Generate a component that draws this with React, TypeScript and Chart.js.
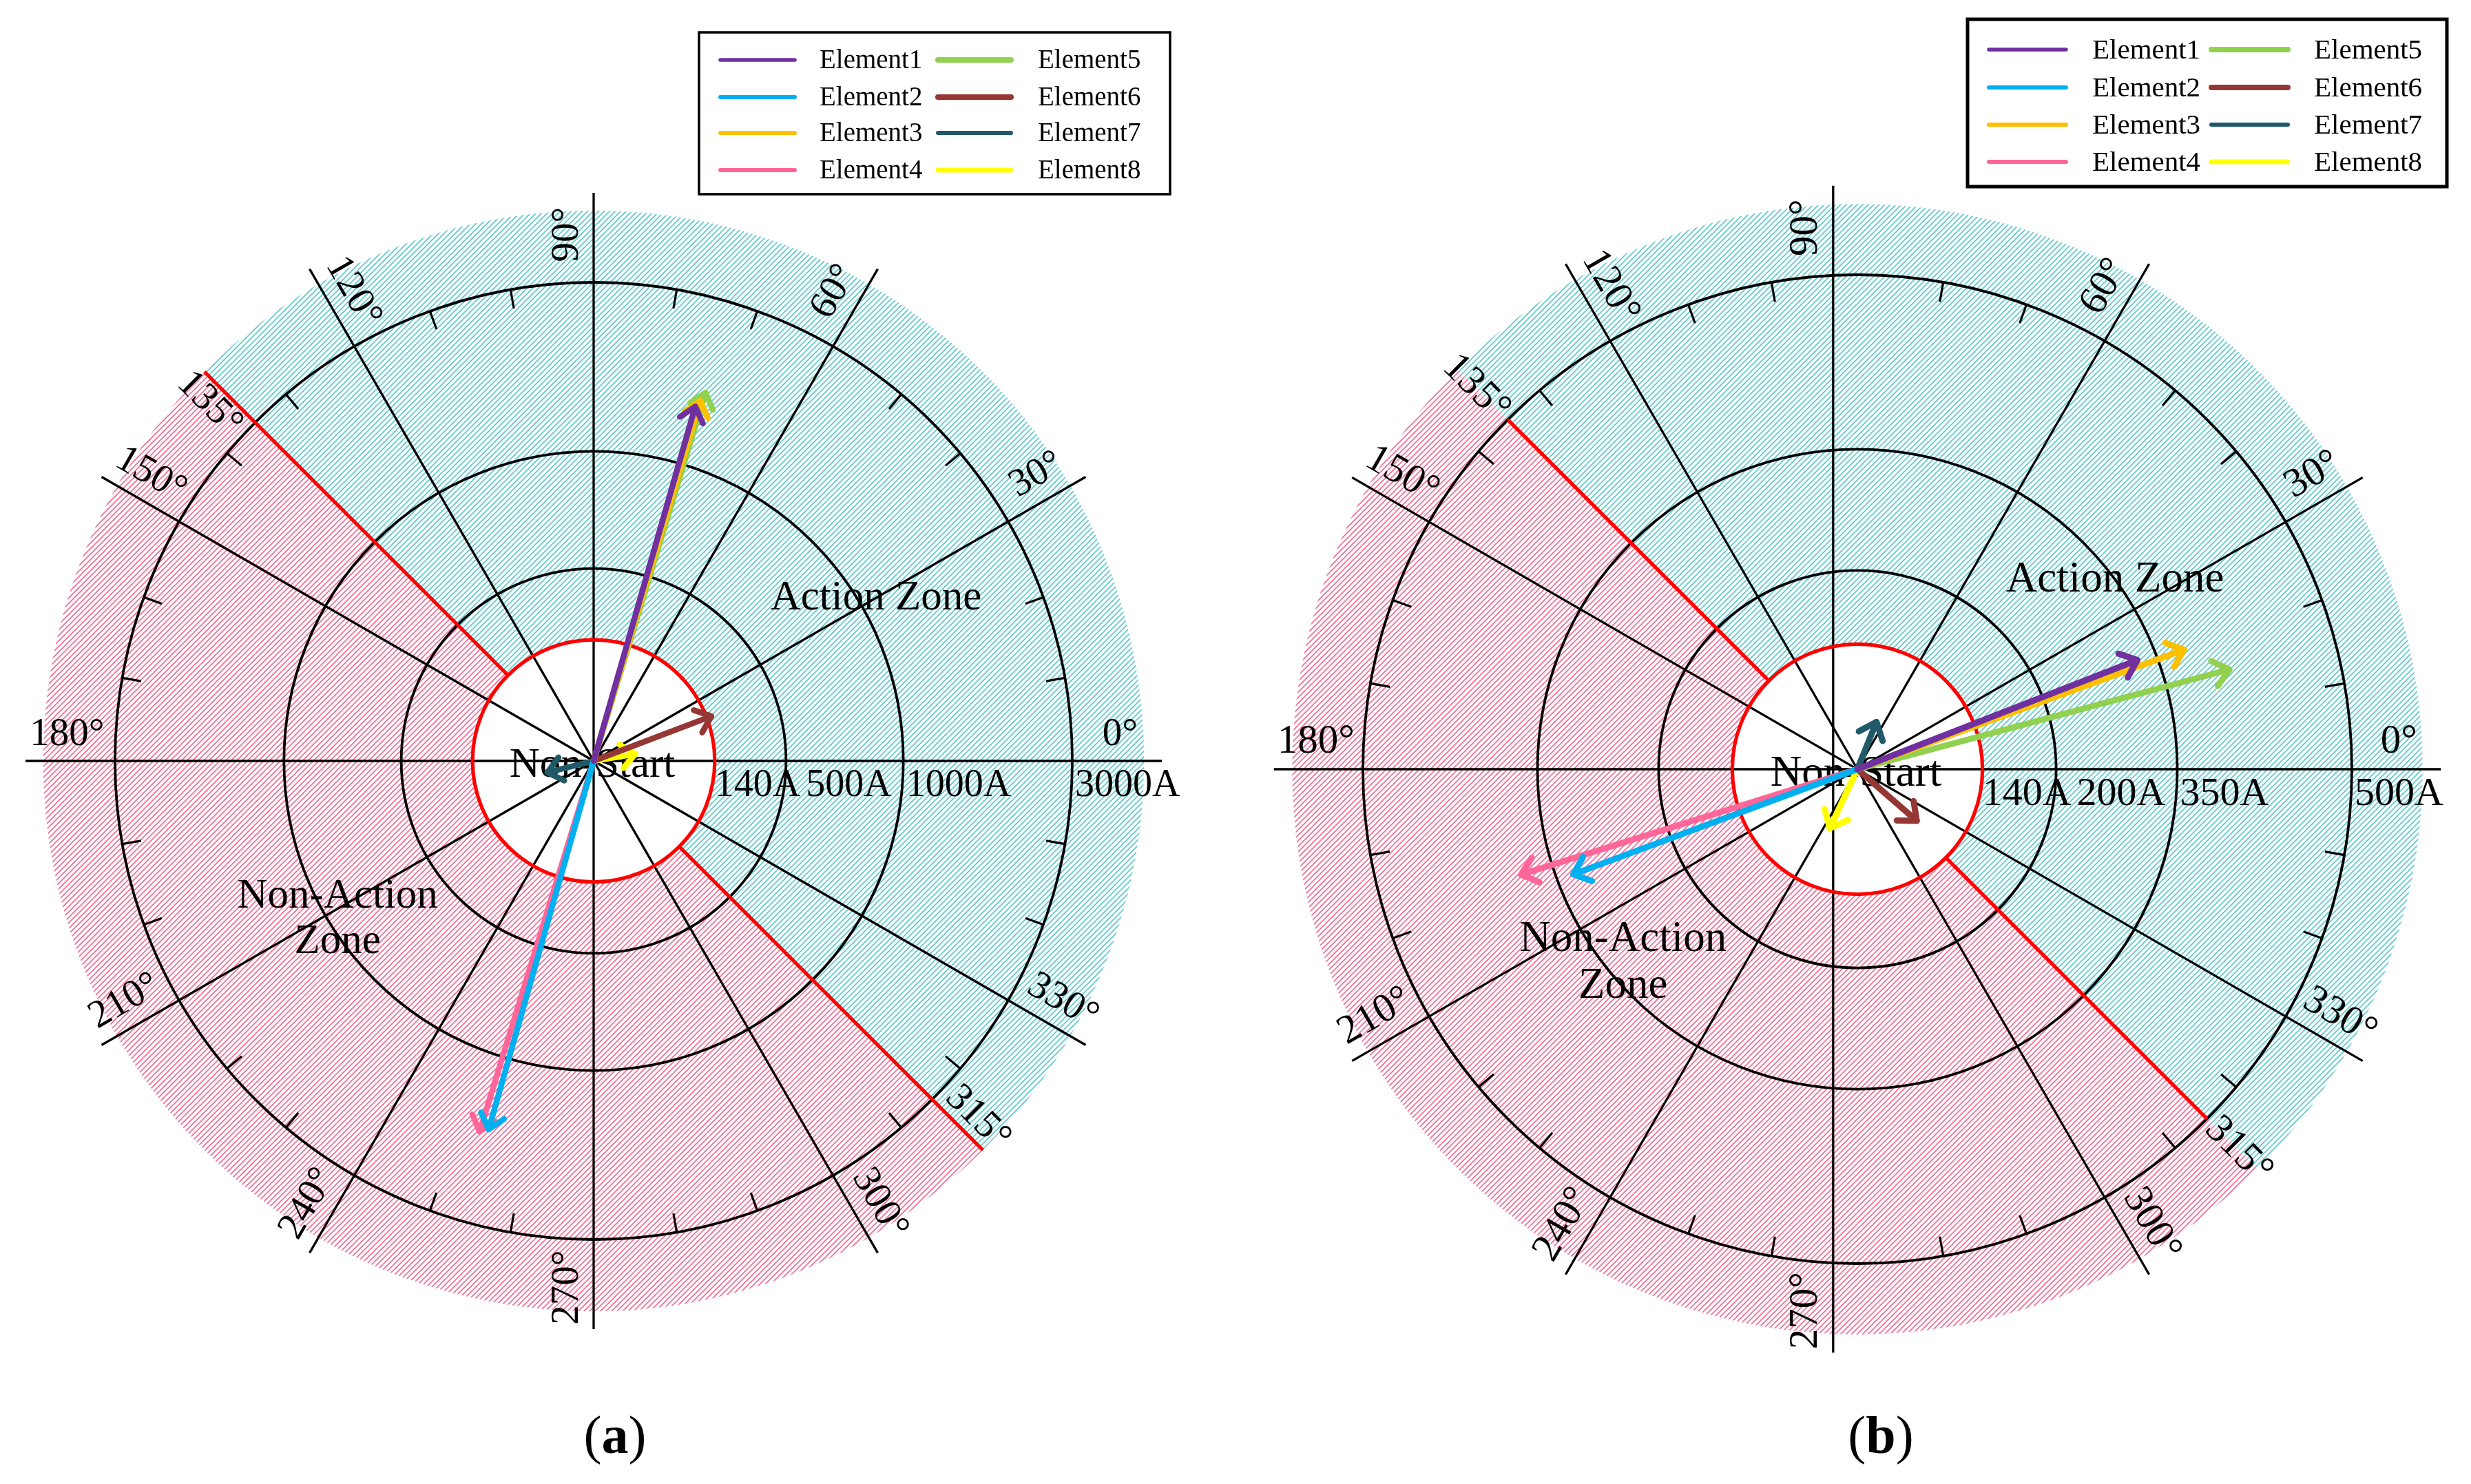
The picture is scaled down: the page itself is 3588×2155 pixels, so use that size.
import React, { useEffect, useRef } from 'react';
import { Chart, registerables } from 'chart.js';

Chart.register(...registerables);

// ---------------- data ----------------
const ELEMENTS = ['Element1', 'Element2', 'Element3', 'Element4', 'Element5', 'Element6', 'Element7', 'Element8'];
const ELEMENT_COLORS = ['#7030a0', '#00b0f0', '#ffc000', '#ff6699', '#92d050', '#953735', '#215968', '#ffff00'];

const ANGLE_LABELS = [0, 30, 60, 90, 120, 135, 150, 180, 210, 240, 270, 300, 315, 330];
const ZONE_BOUNDARY_ANGLES = [135, 315];
const SPOKE_ANGLES = [0, 30, 60, 90, 120, 150];
const MINOR_TICK_ANGLES = [10, 20, 40, 50, 70, 80, 100, 110, 130, 140, 160, 170, 190, 200, 220, 230, 250, 260, 280, 290, 310, 320, 340, 350];

// panel (a)
const A_RING_VALUES = [140, 500, 1000, 3000];
const A_RING_LABELS = ['140A', '500A', '1000A', '3000A'];
const A_MAGNITUDES = [1700, 1870, 1780, 1925, 1890, 164, 55, 49];
const A_ANGLES = [74.0, 254.1, 73.5, 252.9, 73.1, 20.8, 194, 9.5];

// panel (b)
const B_RING_VALUES = [140, 200, 350, 500];
const B_RING_LABELS = ['140A', '200A', '350A', '500A'];
const B_MAGNITUDES = [326, 329, 374, 378, 406, 88, 57, 73];
const B_ANGLES = [21.3, 200.3, 20.1, 197.4, 15.0, 319, 68, 245];

const ACTION_TEXT = 'Action Zone';
const NON_ACTION_TEXT = ['Non-Action', 'Zone'];
const NON_START_TEXT = 'Non-Start';

// ---------------- layout / style ----------------
const RING_FRACTIONS = [0.253, 0.402, 0.647, 1.0];
const FONT = '"Liberation Serif", "Times New Roman", Times, serif';
const DEG = Math.PI / 180;
const PAGE_H = 2155;

const LAYOUT_A = {
  left: 0, width: 1794, cx: 862, cy: 1105, unit: 695,
  hatchR: 1.15, spokeR: 1.187, redLineR: 1.15, vShift: 0,
  labelR: 1.10, labelD: 0.055, zoneR: 1.095, zoneShift: 0.04,
  angleFont: 57, ringFont: 56, zoneFont: 61, startFont: 61, legendFont: 39, captionFont: 78,
  action: [0.59, 0.34], nonAction: [-0.535, -0.283], lineGap: 66,
  legend: { x: 1015, y: 47, w: 684, h: 235, border: 3.5, rows: [40, 94, 146, 200], lineX: [[31, 139], [347, 453]], textX: [175, 492] },
  legendLineW: [5.5, 6, 6, 6, 8, 8, 6, 7],
  captionX: 893, captionY: 2110, caption: 'a',
  arrowW: 8.5, headLen: 27,
};

const LAYOUT_B = {
  left: 1794, width: 1794, cx: 903, cy: 1117, unit: 718,
  hatchR: 1.143, spokeR: 1.18, redLineR: 1.0, vShift: -0.049,
  labelR: 1.095, labelD: 0.055, zoneR: 1.09, zoneShift: 0,
  angleFont: 59, ringFont: 58, zoneFont: 63, startFont: 63, legendFont: 41, captionFont: 78,
  action: [0.521, 0.383], nonAction: [-0.474, -0.344], lineGap: 68,
  legend: { x: 1063, y: 28, w: 696, h: 243, border: 5, rows: [44, 99, 153, 207], lineX: [[31, 143], [354, 465]], textX: [181, 503] },
  legendLineW: [5.5, 6, 6, 6, 8, 8, 6, 7],
  captionX: 937, captionY: 2110, caption: 'b',
  arrowW: 9, headLen: 29,
};

function toRadius(value: number, ringValues: number[]): number {
  const xs = [0, ...ringValues];
  const ys = [0, ...RING_FRACTIONS];
  for (let i = 1; i < xs.length; i++) {
    if (value <= xs[i] || i === xs.length - 1) {
      return ys[i - 1] + ((value - xs[i - 1]) / (xs[i] - xs[i - 1])) * (ys[i] - ys[i - 1]);
    }
  }
  return 0;
}

function makeHatch(color: string): any {
  const c = document.createElement('canvas');
  c.width = 8;
  c.height = 8;
  const g = c.getContext('2d');
  if (!g) return color;
  g.fillStyle = '#ffffff';
  g.fillRect(0, 0, 8, 8);
  g.strokeStyle = color;
  g.lineWidth = 1.6;
  g.beginPath();
  g.moveTo(-2, 10); g.lineTo(10, -2);
  g.moveTo(-2, 2); g.lineTo(2, -2);
  g.moveTo(6, 10); g.lineTo(10, 6);
  g.stroke();
  return g.createPattern(c, 'repeat') || color;
}

function makePlugin(L: any, ringValues: number[], ringLabels: string[]) {
  return {
    id: 'polarFrame',
    beforeDraw(chart: any) {
      const ctx = chart.ctx;
      ctx.save();
      ctx.fillStyle = '#ffffff';
      ctx.fillRect(0, 0, chart.width, chart.height);
      ctx.restore();
    },
    beforeDatasetsDraw(chart: any) {
      const ctx: CanvasRenderingContext2D = chart.ctx;
      const xs = chart.scales.x;
      const ys = chart.scales.y;
      const cx = xs.getPixelForValue(0);
      const cy = ys.getPixelForValue(0);
      const u = xs.getPixelForValue(1) - cx;
      const pt = (r: number, th: number, dx = 0, dy = 0): [number, number] => [
        xs.getPixelForValue(r * Math.cos(th * DEG) + dx),
        ys.getPixelForValue(r * Math.sin(th * DEG) + dy),
      ];
      ctx.save();
      // hatched zones
      const rRed = RING_FRACTIONS[0] * u;
      const rH = L.hatchR * u;
      ctx.fillStyle = makeHatch('#5cc9c9');
      ctx.beginPath();
      ctx.arc(cx, cy, rH, 45 * DEG, -135 * DEG, true);
      ctx.arc(cx, cy, rRed, -135 * DEG, 45 * DEG, false);
      ctx.closePath();
      ctx.fill();
      ctx.fillStyle = makeHatch('#f26a95');
      ctx.beginPath();
      ctx.arc(cx, cy, rH, 225 * DEG, 45 * DEG, true);
      ctx.arc(cx, cy, rRed, 45 * DEG, 225 * DEG, false);
      ctx.closePath();
      ctx.fill();

      // spokes (diameters)
      ctx.strokeStyle = '#000';
      ctx.lineWidth = 3.3;
      ctx.lineCap = 'butt';
      SPOKE_ANGLES.forEach((th) => {
        const sh = th === 90 ? L.vShift : 0;
        const a = pt(L.spokeR, th, sh);
        const b = pt(L.spokeR, th + 180, sh);
        ctx.beginPath();
        ctx.moveTo(a[0], a[1]);
        ctx.lineTo(b[0], b[1]);
        ctx.stroke();
      });
      // black rings
      ctx.lineWidth = 3.8;
      RING_FRACTIONS.slice(1).forEach((f) => {
        ctx.beginPath();
        ctx.arc(cx, cy, f * u, 0, Math.PI * 2);
        ctx.stroke();
      });
      // minor ticks on outer ring
      ctx.lineWidth = 3.2;
      MINOR_TICK_ANGLES.forEach((th) => {
        const a = pt(1.0, th);
        const b = pt(1.0 - 0.04, th);
        ctx.beginPath();
        ctx.moveTo(a[0], a[1]);
        ctx.lineTo(b[0], b[1]);
        ctx.stroke();
      });
      // red start circle + zone boundaries
      ctx.strokeStyle = '#ff0000';
      ctx.lineWidth = 5.2;
      ctx.beginPath();
      ctx.arc(cx, cy, rRed, 0, Math.PI * 2);
      ctx.stroke();
      ZONE_BOUNDARY_ANGLES.forEach((th) => {
        const a = pt(RING_FRACTIONS[0], th);
        const b = pt(L.redLineR, th);
        ctx.beginPath();
        ctx.moveTo(a[0], a[1]);
        ctx.lineTo(b[0], b[1]);
        ctx.stroke();
      });

      // angle labels
      ctx.fillStyle = '#000';
      ctx.font = `${L.angleFont}px ${FONT}`;
      ctx.textAlign = 'center';
      ctx.textBaseline = 'middle';
      ANGLE_LABELS.forEach((th) => {
        let rot = th;
        if (th > 90 && th <= 270) rot = th - 180;
        else if (th > 270) rot = th - 360;
        let x: number, y: number;
        if (ZONE_BOUNDARY_ANGLES.includes(th)) {
          x = L.zoneR * Math.cos(th * DEG) - L.zoneShift * Math.sin(th * DEG);
          y = L.zoneR * Math.sin(th * DEG) + L.zoneShift * Math.cos(th * DEG);
        } else {
          x = L.labelR * Math.cos(th * DEG) - L.labelD * Math.sin(rot * DEG);
          y = L.labelR * Math.sin(th * DEG) + L.labelD * Math.cos(rot * DEG);
        }
        if (th === 90 || th === 270) x += L.vShift;
        ctx.save();
        ctx.translate(xs.getPixelForValue(x), ys.getPixelForValue(y));
        ctx.rotate(-rot * DEG);
        ctx.fillText(`${th}°`, 0, 0);
        ctx.restore();
      });

      // ring value labels
      ctx.font = `${L.ringFont}px ${FONT}`;
      ctx.textAlign = 'left';
      ctx.textBaseline = 'alphabetic';
      const baseY = ys.getPixelForValue(-0.073);
      let prevEnd = -Infinity;
      ringLabels.forEach((lab, i) => {
        const ringPx = xs.getPixelForValue(toRadius(ringValues[i], ringValues));
        const x0 = i === 0 ? ringPx : Math.max(ringPx + 4, prevEnd + 8);
        ctx.fillText(lab, x0, baseY);
        prevEnd = x0 + ctx.measureText(lab).width;
      });

      // zone texts
      ctx.font = `${L.zoneFont}px ${FONT}`;
      ctx.textAlign = 'center';
      ctx.textBaseline = 'middle';
      ctx.fillText(ACTION_TEXT, xs.getPixelForValue(L.action[0]), ys.getPixelForValue(L.action[1]));
      NON_ACTION_TEXT.forEach((t, i) => {
        ctx.fillText(t, xs.getPixelForValue(L.nonAction[0]), ys.getPixelForValue(L.nonAction[1]) + i * L.lineGap);
      });
      ctx.font = `${L.startFont}px ${FONT}`;
      ctx.textBaseline = 'alphabetic';
      ctx.fillText(NON_START_TEXT, cx - 2, ys.getPixelForValue(-0.033));
      ctx.restore();
    },
    afterDatasetDraw(chart: any, args: any) {
      const meta = args.meta;
      const pts = meta.data;
      if (!pts || pts.length < 2) return;
      const ds = chart.data.datasets[args.index];
      const p0 = pts[0];
      const p1 = pts[pts.length - 1];
      const ang = Math.atan2(p1.y - p0.y, p1.x - p0.x);
      const ctx: CanvasRenderingContext2D = chart.ctx;
      ctx.save();
      ctx.strokeStyle = ds.borderColor;
      ctx.lineWidth = ds.borderWidth;
      ctx.lineCap = 'round';
      ctx.lineJoin = 'round';
      const half = 40 * DEG;
      ctx.beginPath();
      ctx.moveTo(p1.x - L.headLen * Math.cos(ang - half), p1.y - L.headLen * Math.sin(ang - half));
      ctx.lineTo(p1.x, p1.y);
      ctx.lineTo(p1.x - L.headLen * Math.cos(ang + half), p1.y - L.headLen * Math.sin(ang + half));
      ctx.stroke();
      ctx.restore();
    },
    afterDraw(chart: any) {
      const ctx: CanvasRenderingContext2D = chart.ctx;
      const lg = L.legend;
      ctx.save();
      ctx.fillStyle = '#ffffff';
      ctx.fillRect(lg.x, lg.y, lg.w, lg.h);
      ctx.strokeStyle = '#000';
      ctx.lineWidth = lg.border;
      ctx.strokeRect(lg.x, lg.y, lg.w, lg.h);
      ctx.font = `${L.legendFont}px ${FONT}`;
      ctx.textAlign = 'left';
      ctx.textBaseline = 'middle';
      chart.data.datasets.forEach((ds: any, i: number) => {
        const col = i < 4 ? 0 : 1;
        const row = i % 4;
        const y = lg.y + lg.rows[row];
        ctx.strokeStyle = ds.borderColor;
        ctx.lineWidth = L.legendLineW[i];
        ctx.lineCap = 'round';
        ctx.beginPath();
        ctx.moveTo(lg.x + lg.lineX[col][0], y);
        ctx.lineTo(lg.x + lg.lineX[col][1], y);
        ctx.stroke();
        ctx.fillStyle = '#000';
        ctx.fillText(ds.label, lg.x + lg.textX[col], y + 2);
      });
      // caption "(a)" / "(b)"
      ctx.textBaseline = 'alphabetic';
      ctx.font = `${L.captionFont}px ${FONT}`;
      const wp = ctx.measureText('(').width;
      const wc = ctx.measureText(')').width;
      ctx.font = `bold ${L.captionFont}px ${FONT}`;
      const wa = ctx.measureText(L.caption).width;
      let x = L.captionX - (wp + wa + wc) / 2;
      ctx.fillStyle = '#000';
      ctx.font = `${L.captionFont}px ${FONT}`;
      ctx.fillText('(', x, L.captionY);
      x += wp;
      ctx.font = `bold ${L.captionFont}px ${FONT}`;
      ctx.fillText(L.caption, x, L.captionY);
      x += wa;
      ctx.font = `${L.captionFont}px ${FONT}`;
      ctx.fillText(')', x, L.captionY);
      ctx.restore();
    },
  };
}

function PolarPanel(props: { layout: any; magnitudes: number[]; angles: number[]; ringValues: number[]; ringLabels: string[] }) {
  const { layout: L, magnitudes, angles, ringValues, ringLabels } = props;
  const ref = useRef<HTMLCanvasElement | null>(null);
  useEffect(() => {
    const canvas = ref.current;
    if (!canvas) return;
    const xmin = -L.cx / L.unit;
    const xmax = (L.width - L.cx) / L.unit;
    const ymax = L.cy / L.unit;
    const ymin = -(PAGE_H - L.cy) / L.unit;
    const datasets = ELEMENTS.map((name, i) => {
      const r = toRadius(magnitudes[i], ringValues);
      const t = angles[i] * DEG;
      return {
        label: name,
        data: [{ x: 0, y: 0 }, { x: r * Math.cos(t), y: r * Math.sin(t) }],
        showLine: true,
        borderColor: ELEMENT_COLORS[i],
        backgroundColor: ELEMENT_COLORS[i],
        borderWidth: L.arrowW,
        borderCapStyle: 'round',
        pointRadius: 0,
        pointHoverRadius: 0,
        fill: false,
      };
    });
    const chart = new Chart(canvas, {
      type: 'scatter',
      data: { datasets } as any,
      options: {
        animation: false,
        responsive: false,
        maintainAspectRatio: false,
        devicePixelRatio: 1,
        events: [],
        layout: { padding: 0 },
        scales: {
          x: { type: 'linear', min: xmin, max: xmax, display: false },
          y: { type: 'linear', min: ymin, max: ymax, display: false },
        },
        plugins: {
          legend: { display: false },
          tooltip: { enabled: false },
          title: { display: false },
        },
      } as any,
      plugins: [makePlugin(L, ringValues, ringLabels) as any],
    });
    return () => chart.destroy();
  }, []);
  return (
    <canvas
      ref={ref}
      width={L.width}
      height={PAGE_H}
      style={{ position: 'absolute', left: L.left, top: 0, width: L.width, height: PAGE_H }}
    />
  );
}

export default function App() {
  return (
    <div style={{ position: 'absolute', left: 0, top: 0, width: 3588, height: PAGE_H, background: '#fff', overflow: 'hidden' }}>
      <PolarPanel layout={LAYOUT_A} magnitudes={A_MAGNITUDES} angles={A_ANGLES} ringValues={A_RING_VALUES} ringLabels={A_RING_LABELS} />
      <PolarPanel layout={LAYOUT_B} magnitudes={B_MAGNITUDES} angles={B_ANGLES} ringValues={B_RING_VALUES} ringLabels={B_RING_LABELS} />
    </div>
  );
}
